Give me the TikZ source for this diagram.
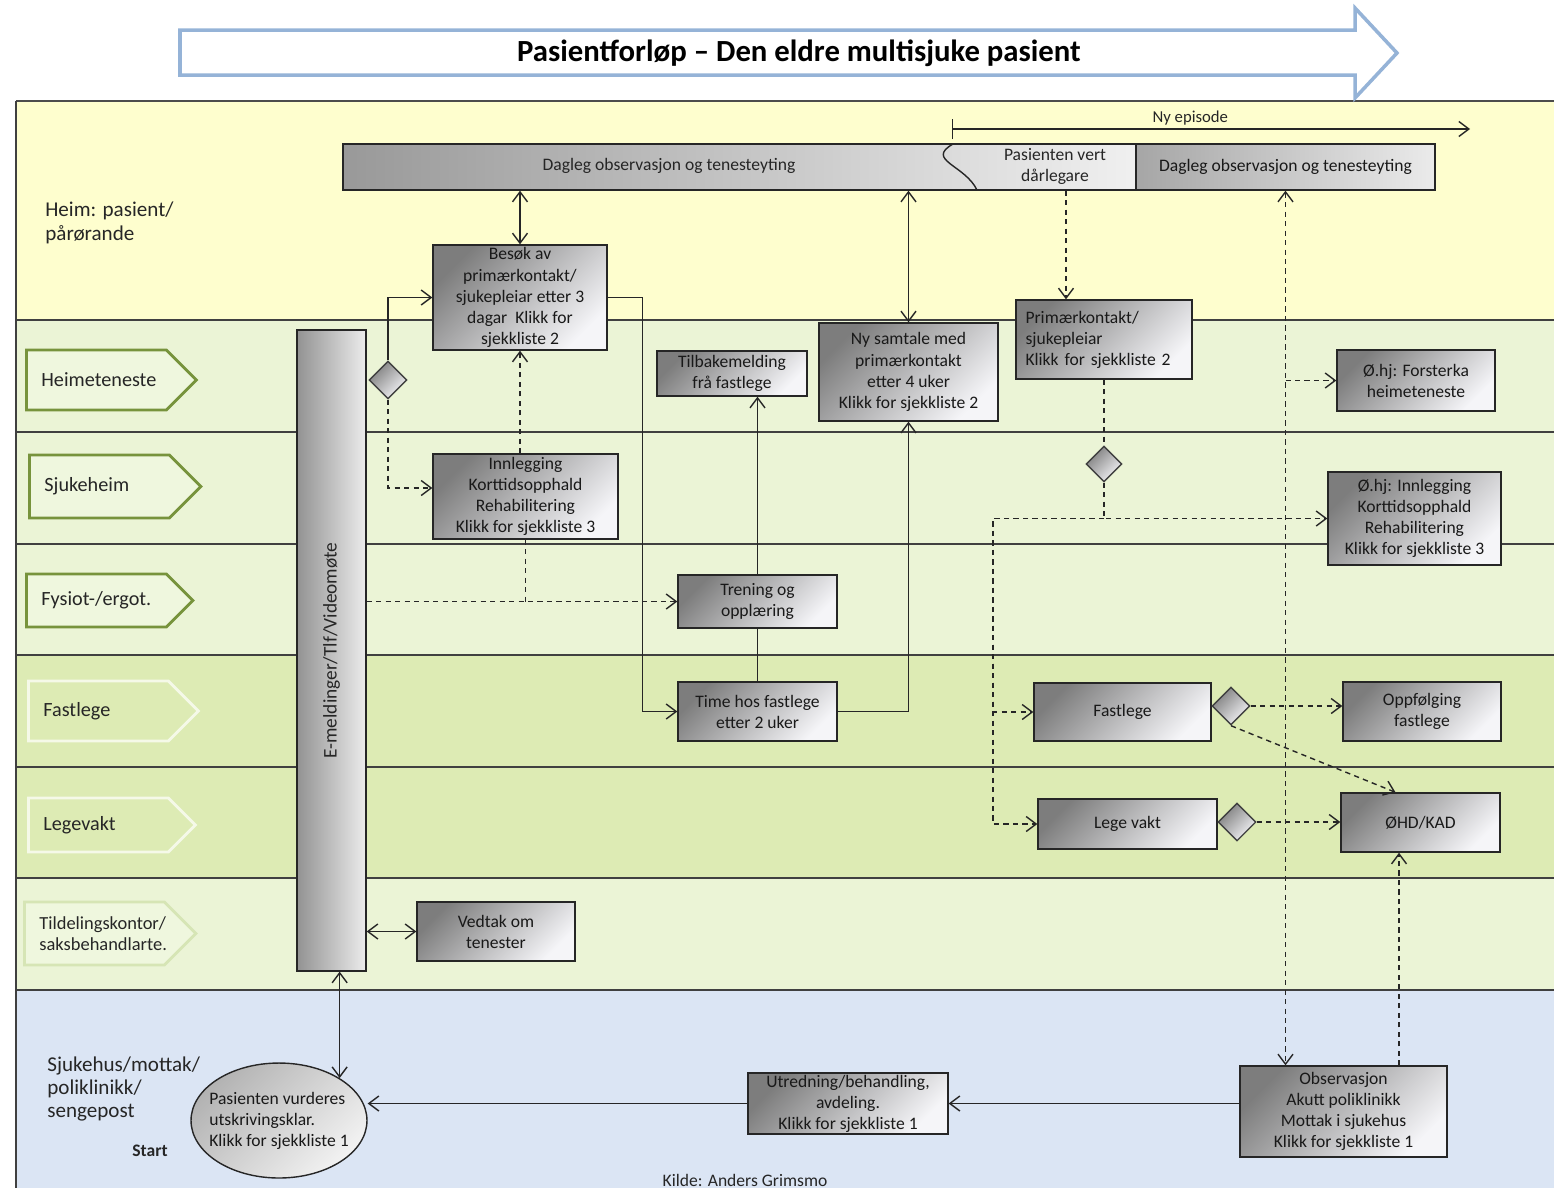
\documentclass[tikz,border=0pt]{standalone}
\usepackage{fontspec}
\setmainfont{Carlito}
\usetikzlibrary{arrows.meta,shapes.geometric,shapes.symbols}

\definecolor{heimyellow}{RGB}{254,254,206}
\definecolor{lanegreen}{RGB}{235,244,214}
\definecolor{lanegreendk}{RGB}{221,235,180}
\definecolor{laneblue}{RGB}{219,229,244}
\definecolor{tagline}{RGB}{119,147,60}
\definecolor{tagfill}{RGB}{239,247,222}
\definecolor{tagfaint}{RGB}{214,229,181}
\definecolor{arrowblue}{RGB}{149,179,215}
\definecolor{boxdark}{RGB}{125,125,125}
\definecolor{boxlight}{RGB}{245,245,248}

\tikzset{
  >={Straight Barb[length=2mm,width=3mm]},
  box/.style={draw=black!85, line width=0.8pt, top color=boxdark, bottom color=boxlight,
    shading angle=45, align=center, inner sep=0.5pt, text=black!90,
    font=\fontsize{10}{12}\selectfont},
  choice/.style={diamond, draw=black!75, line width=0.8pt, top color=boxdark,
    bottom color=boxlight, shading angle=45, minimum size=0.76cm, inner sep=0pt},
  lanetag/.style={signal, signal to=east, signal pointer angle=90, line width=1.6pt,
    text width=2.2cm, inner xsep=0.3cm, align=left, text=black!85,
    font=\fontsize{11.5}{14}\selectfont},
  txt/.style={inner sep=0pt, align=center, text=black!85, font=\fontsize{10}{12}\selectfont},
  link/.style={line width=0.8pt, black!85},
  dlink/.style={link, dash pattern=on 3pt off 2.4pt},
  sepline/.style={line width=1pt, black!75},
}

\begin{document}
\begin{tikzpicture}[x=0.02cm,y=-0.02cm]
\useasboundingbox (0,0) rectangle (1554,1188);

% Lanes
\fill[heimyellow] (16,101) rectangle (1554,320);
\fill[lanegreen] (16,320) rectangle (1554,655);
\fill[lanegreendk] (16,655) rectangle (1554,878);
\fill[lanegreen] (16,878) rectangle (1554,990);
\fill[laneblue] (16,990) rectangle (1554,1188);
\foreach \y in {320,432,544,655,767,878,990}
  \draw[sepline] (16,\y) -- (1554,\y);
\draw[line width=1.6pt, black!70] (16,101) -- (1554,101);
\draw[sepline] (16,101) -- (16,1188);

% Title arrow
\draw[line width=2pt, arrowblue, fill=white]
  (180,30) -- (1355,30) -- (1355,8) -- (1397,53) -- (1355,98) -- (1355,75) -- (180,75) -- cycle;
\node[font=\fontsize{17.5}{20}\selectfont\bfseries] (title) at (799,53)
  {Pasientforløp – Den eldre multisjuke pasient};

% Lane labels
\node[anchor=north west, align=left, inner sep=0pt, text=black!85, font=\fontsize{12}{14}\selectfont]
  (heimlbl) at (45,201) {Heim: pasient/\\pårørande};
\node[lanetag, draw=tagline, fill=tagfill, minimum height=1.2cm, anchor=west] (tagheime) at (25,380) {Heimeteneste};
\node[lanetag, draw=tagline, fill=tagfill, minimum height=1.26cm, anchor=west] (tagsjuke) at (28,486.5) {Sjukeheim};
\node[lanetag, draw=tagline, fill=tagfill, minimum height=1.06cm, anchor=west] (tagfysio) at (25,600.5) {Fysiot-/ergot.};
\node[lanetag, draw=white!70!lanegreendk, fill=lanegreendk, minimum height=1.2cm, anchor=west] (tagfast) at (27,711) {Fastlege};
\node[lanetag, draw=white!70!lanegreendk, fill=lanegreendk, minimum height=1.08cm, anchor=west] (taglege) at (27,825) {Legevakt};
\node[lanetag, draw=tagfaint, fill=tagfill, minimum height=1.26cm, anchor=west,
  font=\fontsize{10.5}{12}\selectfont] (tagtildel) at (23,933.5) {Tildelingskontor/\\saksbehandlarte.};
\node[anchor=north west, align=left, inner sep=0pt, text=black!85, font=\fontsize{12}{13.3}\selectfont]
  (sjukehuslbl) at (47,1056) {Sjukehus/mottak/\\poliklinikk/\\sengepost};
\node[txt, font=\fontsize{10}{12}\selectfont\bfseries] (startlbl) at (150,1151) {Start};
\node[txt] (kilde) at (745,1180) {Kilde: Anders Grimsmo};

% Communication bar
\node[draw=black!85, line width=0.8pt, left color=gray!85, right color=gray!15,
  minimum width=1.38cm, minimum height=12.82cm,
  label={[rotate=90, text=black!85, font=\fontsize{11}{13}\selectfont]center:E-meldinger/Tlf/Videomøte}]
  (ebar) at (331.5,650.5) {};

% Daily care bar
\node[box, left color=black!40, right color=black!6, minimum width=15.86cm, minimum height=0.92cm] (bar) at (739.5,167) {};
\node[txt] (dagleg1) at (669,166) {Dagleg observasjon og tenesteyting};
\draw[line width=0.8pt, black!85] (953,144) .. controls (925,160) and (965,165) .. (977,190);
\node[txt] (verre) at (1055,166) {Pasienten vert\\dårlegare};
\node[box, left color=black!35, right color=black!8, minimum width=5.98cm, minimum height=0.92cm] (dagleg2) at (1285.5,167) {Dagleg observasjon og tenesteyting};

% New episode
\coordinate (epfrom) at (952,129);
\coordinate (epto) at (1470,129);
\draw[link, {Bar[width=0.4cm]}-{Straight Barb[length=2mm,width=3mm]}] (epfrom) -- (epto)
  node[pos=0.46, above, inner sep=1.5pt, text=black!85, font=\fontsize{9.5}{11}\selectfont] {Ny episode};

% Steps
\node[box, minimum width=3.48cm, minimum height=2.1cm] (besok) at (520,297.5)
  {Besøk av\\primærkontakt/\\sjukepleiar etter 3\\dagar~~Klikk for\\sjekkliste 2};
\node[box, minimum width=3.7cm, minimum height=1.7cm] (innlegging) at (525.5,496.5)
  {Innlegging\\Korttidsopphald\\Rehabilitering\\Klikk for sjekkliste 3};
\node[box, minimum width=3cm, minimum height=0.9cm] (tilbake) at (732,373.5) {Tilbakemelding\\frå fastlege};
\node[box, minimum width=3.58cm, minimum height=1.96cm] (nysamtale) at (908.5,372)
  {Ny samtale med\\primærkontakt\\etter 4 uker\\Klikk for sjekkliste 2};
\node[box, align=left, text width=3.14cm, inner xsep=0.19cm, minimum height=1.58cm] (primaer) at (1104,339.5)
  {Primærkontakt/\\sjukepleiar\\Klikk for sjekkliste 2};
\node[box, minimum width=3.16cm, minimum height=1.22cm] (ohjheim) at (1416,380.5) {Ø.hj: Forsterka\\heimeteneste};
\node[box, minimum width=3.18cm, minimum height=1.06cm] (trening) at (757.5,601.5) {Trening og\\opplæring};
\node[box, minimum width=3.18cm, minimum height=1.18cm] (timefast) at (757.5,711.5) {Time hos fastlege\\etter 2 uker};
\node[box, minimum width=3.46cm, minimum height=1.86cm] (ohjinn) at (1414.5,518.5)
  {Ø.hj: Innlegging\\Korttidsopphald\\Rehabilitering\\Klikk for sjekkliste 3};
\node[box, minimum width=3.54cm, minimum height=1.16cm] (fastlege) at (1122.5,712) {Fastlege};
\node[box, minimum width=3.16cm, minimum height=1.18cm] (oppfolg) at (1422,711.5) {Oppfølging\\fastlege};
\node[box, minimum width=3.58cm, minimum height=1cm] (legevakt) at (1127.5,824) {Lege vakt};
\node[box, minimum width=3.18cm, minimum height=1.18cm] (ohd) at (1420.5,822.5) {ØHD/KAD};
\node[box, minimum width=3.16cm, minimum height=1.18cm] (vedtak) at (496,931.5) {Vedtak om\\tenester};
\node[box, minimum width=4cm, minimum height=1.22cm] (utredning) at (848,1103.5)
  {Utredning/behandling,\\avdeling.\\Klikk for sjekkliste 1};
\node[box, minimum width=4.14cm, minimum height=1.82cm] (observ) at (1343.5,1111.5)
  {Observasjon\\Akutt poliklinikk\\Mottak i sjukehus\\Klikk for sjekkliste 1};
\node[box, ellipse, align=left, top color=gray!60, bottom color=gray!10, shading angle=45,
  minimum width=3.52cm, minimum height=2.3cm, inner xsep=-0.55cm, inner ysep=-0.15cm] (start) at (279,1120.5)
  {Pasienten vurderes\\utskrivingsklar.\\Klikk for sjekkliste 1};

% Decisions
\node[choice] (d1) at (388,380) {};
\node[choice, minimum size=0.72cm] (d2) at (1104,464) {};
\node[choice] (d3) at (1231,706) {};
\node[choice] (d4) at (1237,822) {};

% Connectors
\draw[link,<->] (besok.north) -- (besok.north |- bar.south);
\draw[link,<->] (nysamtale.north) -- (nysamtale.north |- bar.south);
\draw[dlink,->] ([xshift=-0.76cm]primaer.north |- bar.south) -- ([xshift=-0.76cm]primaer.north);
\draw[dlink,<->] (dagleg2.south) -- (dagleg2.south |- observ.north);
\draw[dlink,->] (ohjheim.west -| dagleg2.south) -- (ohjheim.west);
\draw[dlink,->] ([xshift=-0.43cm]ohd.south |- observ.north) -- ([xshift=-0.43cm]ohd.south);
\draw[link,->] (observ.west |- utredning.east) -- (utredning.east);
\draw[link,->] (utredning.west) -- (utredning.west -| start.east);
\draw[link,<->] (start.35) -- (start.35 |- ebar.south);
\draw[link,<->] (vedtak.west -| ebar.east) -- (vedtak.west);
\draw[link,->] (d1.north) |- (besok.west);
\draw[dlink,->] (d1.south) |- ([yshift=0.17cm]innlegging.west);
\draw[dlink,->] (innlegging.north -| besok.south) -- (besok.south);
\draw[dlink,->] (trening.west -| ebar.east) -- (trening.west);
\draw[dlink] (innlegging.south) -- (innlegging.south |- trening.west);
\draw[link,->] (besok.east) -- ++(35,0) |- (timefast.west);
\draw[link] (timefast.north) -- (trening.south);
\draw[link,->] (trening.north) -- (trening.north |- tilbake.south);
\draw[link,->] (timefast.east) -| (nysamtale.south);
\draw[dlink] (primaer.south) -- (d2.north);
\draw[dlink,->] (d2.south) |- (ohjinn.west);
\draw[dlink,->] (d2.south |- ohjinn.west) -- ++(-111,0) |- (fastlege.west);
\draw[dlink,->] (d2.south |- ohjinn.west) -- ++(-111,0) |- (legevakt.west);
\draw[dlink,->] (d3.east) -- (d3.east -| oppfolg.west);
\draw[dlink,->] (d3.south) -- ([xshift=-0.5cm]ohd.north);
\draw[dlink,->] (d4.east) -- (d4.east -| ohd.west);

\end{tikzpicture}
\end{document}
